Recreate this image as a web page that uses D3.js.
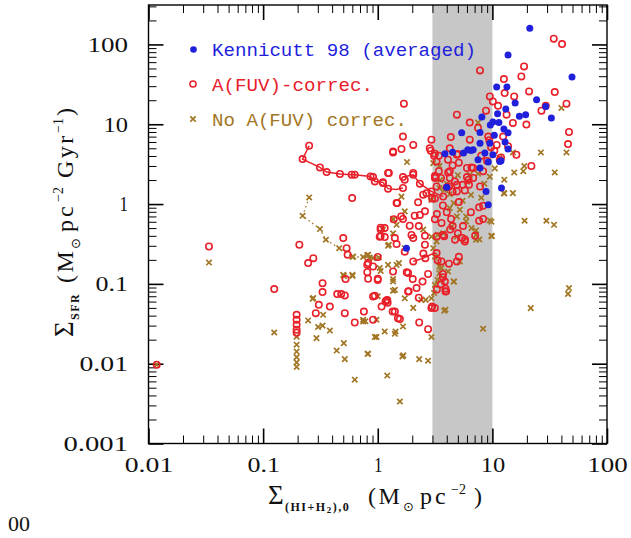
<!DOCTYPE html>
<html><head><meta charset="utf-8">
<script src="https://cdn.jsdelivr.net/npm/d3@7"></script>
<style>body{margin:0;background:#fff}</style>
</head><body>
<svg id="chart" width="631" height="538"></svg>
<script>
// ---------- data ----------
const xTickValues = [0.01, 0.1, 1, 10, 100];
const xTickLabels = ["0.01", "0.1", "1", "10", "100"];
const yTickValues = [0.001, 0.01, 0.1, 1, 10, 100];
const yTickLabels = ["0.001", "0.01", "0.1", "1", "10", "100"];
const shadeRange = [3, 10];
const legendLabels = ["Kennicutt 98 (averaged)", "A(FUV)-correc.", "No A(FUV) correc."];

// Kennicutt 98 (averaged) [gas surface density, SFR surface density]
const kennicutt = [
 [21.2,160],[13.7,74],[49.5,39],[10.9,29.3],[13.4,29.3],[24.3,20.3],[15.8,18.4],[19.5,13.2],
 [32.7,12.0],[29.2,16.7],[13.1,15.5],[11.1,13.5],[8.1,12.3],[10.1,10.7],[11.4,10.5],[12.6,8.7],
 [13.7,7.8],[7.8,7.9],[5.4,7.8],[6.1,4.8],[6.8,4.8],[7.8,5.8],[9.5,5.8],[5.6,4.36],[7.5,3.6],
 [8.6,4.36],[10.1,4.15],[9.2,3.36],[7.8,2.83],[11.6,3.42],[3.85,4.27],[12,1.59],[4.0,1.63],
 [8.8,1.44],[9.2,0.98],[1.78,0.28],[9.6,9.8],[10.4,7.3],[12.9,6.0],[13.7,4.9],[11.9,3.5],
 [6.5,4.7],[17.2,12.6],[4.5,4.45]
];

// A(FUV)-corrected
const fuvCorrected = [
 [34.3,118],[40.5,101],[7.8,47.2],[18.9,53],[17.9,39.7],[12.6,36.8],[20.9,25.8],[35,25.3],
 [12.8,24.6],[15.5,22.3],[44.3,18.1],[9.5,22.3],[29.2,17],[26.8,14.8],[11.2,17],[10.1,19.3],
 [8.8,14.8],[13.3,13.2],[4.9,13.2],[1.69,18.1],[6.35,10.5],[7.5,9.0],[15.1,10.4],[19.8,9.9],
 [46.6,8.0],[45.7,5.65],[4.34,6.9],[2.94,6.4],[2.84,5.0],[3.15,4.27],[4.25,5.0],[4.9,4.15],
 [6.35,6.4],[9.2,7.0],[10.9,5.5],[12.4,7.0],[13.7,5.3],[16.2,4.15],[11.6,3.6],[21.9,3.0],
 [2.04,5.5],[1.66,7.0],[1.36,4.43],[1.61,4.9],[1.23,2.45],[2.04,2.45],[1.72,2.02],[3.15,2.12],
 [4.11,2.49],[4.7,1.92],[6.0,2.83],[6.2,2.02],[6.8,2.83],[4.9,1.44],[7.8,1.66],[5.75,1.48],
 [2.66,1.37],[3.72,1.24],[3.41,4.03],[4.1,3.6],[3.26,3.42],[5.0,4.23],[0.91,2.18],[1.11,1.83],
 [1.66,2.18],[2.04,2.33],[1.66,1.59],[2.33,1.8],[3.21,2.18],[3.26,1.66],[4.0,1.63],[4.25,2.12],
 [6.0,2.18],[6.57,2.88],[2.94,1.44],[2.49,1.31],[1.46,1.03],[2.25,1.05],[1.66,0.65],[2.33,0.73],
 [2.58,0.81],[1.9,0.535],[1.97,0.41],[1.15,0.5],[1.04,0.39],[3.6,0.58],[3.72,0.41],[5.0,0.43],
 [0.252,5.38],[0.221,3.66],[0.313,2.88],[0.358,2.52],[0.468,2.38],[0.592,2.33],[0.63,2.33],
 [0.865,2.22],[0.944,1.92],[1.11,1.87],[1.23,1.56],
 [1.36,4.57],[1.25,2.45],[0.598,1.19],[1.48,1.03],[1.06,0.48],[1.15,0.386],[1.41,0.375],
 [1.46,0.315],[0.5,0.375],[0.535,0.28],[0.546,0.232],[0.207,0.309],[0.274,0.21],[0.247,0.182],
 [0.0337,0.294],[0.125,0.086],[0.824,0.182],[0.91,0.165],[1.0,0.217],[0.824,0.116],[1.0,0.116],
 [1.36,0.143],[0.33,0.102],[0.33,0.079],[0.443,0.0745],[0.48,0.0745],[0.516,0.0716],
 [0.306,0.0547],[0.382,0.052],[0.944,0.071],[1.21,0.063],[0.288,0.043],[0.63,0.0328],
 [0.757,0.045],[0.516,0.043],
 [0.196,0.041],[0.196,0.0355],[0.196,0.0307],[0.196,0.0266],[0.196,0.0244],
 [0.0118,0.0097],
 [2.04,0.375],[2.58,0.4],[2.58,0.309],[3.26,0.243],[3.6,0.191],[4.9,0.191],[5.75,0.34],
 [3.85,0.107],[3.9,0.08],[2.94,0.0497],[2.75,0.0271],[2.04,0.191],[1.84,0.137],[1.0,0.112],
 [1.84,0.08],[2.18,0.0886],[2.46,0.107],[0.91,0.0695],[1.19,0.062],[1.17,0.06],[1.22,0.058],
 [1.08,0.052],[1.41,0.045],[1.56,0.0362],[2.3,0.0328],[0.91,0.0355],
 [0.524,0.115],[0.81,0.174],[0.81,0.14],[1.06,0.506],[1.06,0.395],[1.35,0.045],[1.5,0.037],
 [1.38,0.647],[1.6,0.7],[1.72,0.253],[1.79,0.14],[1.86,0.081],[2.02,0.115],[2.28,0.067],
 [2.1,0.715],[2.28,0.53],[2.5,0.24],[2.6,0.21],[2.75,0.133],[2.98,0.052],[2.98,1.17],
 [3.15,0.647],[3.28,0.395],[3.33,0.198],[3.56,0.099],[3.7,0.133],[3.95,0.081],[3.8,0.395],
 [4.28,0.48],[4.18,0.179],[5.1,0.218],[4.72,0.358],[5.46,0.376],[5.55,0.53],[7.66,0.616],
 [8.3,0.95],[3.15,1.17],[3.28,0.75],[3.7,0.96],[4.0,0.79],[4.36,0.65],[4.5,1.43],[4.5,0.53],
 [5.1,1.06],[5.5,1.74],[5.77,0.36],[6.25,1.74],[6.5,0.79],[6.8,2.12],[7.07,0.4],[7.66,0.91],
 [8.3,0.65],[8.3,2.58],[9.0,3.47],[8.0,4.03],[9.75,5.15],[9.4,6.3],[10.4,4.67],[11.9,3.84],
 [3.7,0.121],[3.28,0.085],[3.9,0.087],[3.15,0.05],[4.9,1.74],[4.18,1.66],[3.56,2.12],
 [3.15,2.25],[3.41,2.58],[4.25,2.58],[5.1,3.3],[4.5,3.05],[3.1,4.03],[2.9,4.67]
];

// connected A(FUV)-corrected profiles
const fuvProfileA = [[0.252,5.38],[0.221,3.66],[0.313,2.88],[0.358,2.52],[0.468,2.38],[0.592,2.33],
 [0.63,2.33],[0.865,2.22],[0.944,1.92],[1.11,1.87],[1.23,1.56],[1.45,1.52],[1.66,1.59]];
const fuvProfileB = [[1.66,2.18],[2.04,2.33],[2.33,1.8],[2.94,1.44],[3.72,1.24]];
const fuvProfileC = [[2.04,0.191],[2.5,0.21],[2.94,0.235],[3.26,0.243]];

// No A(FUV) correction
const noFuv = [
 [0.0337,0.185],[0.0118,0.0097],[0.125,0.0246],
 [0.252,1.21],[0.221,0.713],[0.313,0.486],[0.353,0.357],[0.461,0.28],[0.603,0.217],
 [0.746,0.217],[0.85,0.214],[1.02,0.214],
 [0.196,0.0218],[0.196,0.0173],[0.196,0.0142],[0.196,0.0121],[0.196,0.0104],[0.196,0.0091],
 [0.506,0.126],[0.603,0.126],[1.36,0.654],[1.46,0.55],[1.23,0.3],[1.46,0.173],[1.23,0.173],
 [1.36,0.115],[1.0,0.07],[1.36,0.082],[0.27,0.065],[0.247,0.0348],[0.302,0.0288],[0.33,0.03],
 [0.382,0.026],[0.292,0.0209],[0.334,0.041],[0.438,0.0146],[0.516,0.0114],[0.506,0.0181],
 [0.63,0.0063],[0.5,0.13],[0.6,0.13],[0.746,0.0338],[0.815,0.0133],[1.21,0.0071],[1.15,0.0253],
 [0.975,0.0216],[0.274,0.0664],[1.25,0.309],[1.72,0.28],[1.53,0.182],[1.04,0.158],[0.91,0.21],
 [0.824,0.232],[0.746,0.0355],[0.78,0.034],[0.975,0.0355],[0.944,0.0216],[1.41,0.0237],
 [0.824,0.0133],[1.64,0.0123],[2.3,0.0114],[2.75,0.0109],[1.66,0.0293],[1.36,0.107],[1.41,0.084],
 [1.72,0.066],[2.04,0.05],[2.4,0.063],[2.62,0.063],[2.94,0.066],[3.1,0.077],[3.15,0.097],
 [3.33,0.112],[3.45,0.136],[3.45,0.165],[3.15,0.22],[3.05,0.28],[3.26,0.34],[3.33,0.41],
 [4.1,0.143],[4.63,0.107],[3.9,0.0474],[2.94,0.0216],[8.3,0.0274],[19.1,0.618],[29.6,0.618],
 [34.5,0.55],[46.6,0.0886],[45.7,0.075],[21.6,0.0497],[9.8,0.4],[7.2,0.357],[9.5,0.623],
 [7.2,0.467],[5.9,0.605],[5.2,0.191],[4.6,0.107],[3.6,0.158],[3.8,0.046],[1.56,0.00336],
 [40,16],[44.3,4.43],[26.5,4.43],[35,2.49],[15.5,2.49],[19,3.0],[15.1,4.43],[15.1,1.37],
 [12.6,1.37],[1.8,3.36],[3.05,3.26],[7.5,10.5],[3.45,3.0],[6.35,2.33],[1.61,1.24],[4.25,1.33],
 [4.6,1.03],[2.94,1.13],[4.25,0.89],[5.2,0.85],[4.9,0.7],[5.9,0.7],[6.57,0.5],[4.4,0.52],
 [3.72,0.43],[2.94,0.39],[4.9,0.39],[7.2,0.41],[1.36,0.64],[1.36,0.43],[1.11,0.48],[2.49,0.48],
 [1.72,0.81],[12.7,2.02],[12.7,1.36],[9.9,0.395],[9.8,0.6],[7.7,0.36],[18.6,2.58],[3.45,1.59],
 [0.81,0.229],[1.06,0.145],[0.61,0.22],[1.43,0.0253],[1.67,0.0127],
 [3.5,2.0],[4.0,1.8],[5.0,2.3],[6.0,1.9],[7.5,2.4],[8.5,1.8],[9.5,2.2],[10.5,2.8],[11.5,3.8],
 [8.0,1.2],[6.5,1.3],[5.5,1.1],[3.8,1.5]
];

// dotted No A(FUV) profiles
const noFuvProfileA = [[0.252,1.21],[0.221,0.713],[0.313,0.486],[0.353,0.357],[0.461,0.28],
 [0.603,0.217],[0.746,0.217],[0.85,0.214],[1.02,0.214]];
const noFuvProfileB = [[2.4,0.063],[2.62,0.063],[2.94,0.066],[3.1,0.077],[3.15,0.097],[3.33,0.112],
 [3.45,0.136],[3.45,0.165],[3.15,0.22],[3.05,0.28],[3.26,0.34],[3.33,0.41]];

// ---------- style ----------
const BLUE = "#1f1fdc", RED = "#e8202a", BROWN = "#a27624", SHADE = "#c7c7c7";
const plot = {left: 148.5, right: 607, top: 5, bottom: 443.5};
const serif = "Liberation Serif, serif";

const svg = d3.select("#chart");
svg.append("rect").attr("width", 631).attr("height", 538).attr("fill", "#fff");

const x = d3.scaleLog().domain([0.01, 100]).range([plot.left, plot.right]);
const y = d3.scaleLog().domain([0.001, 312]).range([plot.bottom, plot.top]);

// shaded band
svg.append("rect")
  .attr("x", x(shadeRange[0])).attr("width", x(shadeRange[1]) - x(shadeRange[0]))
  .attr("y", plot.top).attr("height", plot.bottom - plot.top)
  .attr("fill", SHADE);

// minor ticks
function minorOf(majors) {
  const out = [];
  majors.slice(0, -1).forEach(d => { for (let m = 2; m <= 9; m++) out.push(d * m); });
  return out;
}
const yMajors = [0.001, 0.01, 0.1, 1, 10, 100, 1000];
const xMinor = minorOf(xTickValues);
const yMinor = minorOf(yMajors).filter(v => v <= 312);

// width of a tick label (wide, SM-like digits)
const labelWidth = s => Array.from(s).reduce((w, c) => w + (c === "0" ? 16 : c === "1" ? 8.5 : 8), 0);

function styleAxis(g) {
  g.select(".domain").remove();
  g.selectAll(".tick line").attr("stroke", "#000");
}
function styleLabels(sel, labels, values) {
  sel.attr("font-family", serif).attr("font-size", 20).attr("fill", "#111")
    .attr("textLength", d => labelWidth(labels[values.indexOf(d)]))
    .attr("lengthAdjust", "spacingAndGlyphs");
}
const axes = svg.append("g");
// bottom
axes.append("g").attr("transform", `translate(0,${plot.bottom})`)
  .call(d3.axisBottom(x).tickValues(xMinor).tickSize(-8).tickFormat("")).call(styleAxis);
const bottomMajor = axes.append("g").attr("transform", `translate(0,${plot.bottom})`)
  .call(d3.axisBottom(x).tickValues(xTickValues).tickSize(-15).tickFormat((d, i) => xTickLabels[i]))
  .call(styleAxis);
bottomMajor.selectAll(".tick line").attr("stroke-width", 1.6);
bottomMajor.selectAll("text").attr("y", 28.5).attr("dy", 0)
  .call(styleLabels, xTickLabels, xTickValues);
// top
axes.append("g").attr("transform", `translate(0,${plot.top})`)
  .call(d3.axisTop(x).tickValues(xMinor).tickSize(-8).tickFormat("")).call(styleAxis);
axes.append("g").attr("transform", `translate(0,${plot.top})`)
  .call(d3.axisTop(x).tickValues(xTickValues).tickSize(-15).tickFormat("")).call(styleAxis)
  .selectAll(".tick line").attr("stroke-width", 1.6);
// left
axes.append("g").attr("transform", `translate(${plot.left},0)`)
  .call(d3.axisLeft(y).tickValues(yMinor).tickSize(-8).tickFormat("")).call(styleAxis);
const leftMajor = axes.append("g").attr("transform", `translate(${plot.left},0)`)
  .call(d3.axisLeft(y).tickValues(yTickValues).tickSize(-15).tickPadding(20.5)
    .tickFormat((d, i) => yTickLabels[i]))
  .call(styleAxis);
leftMajor.selectAll(".tick line").attr("stroke-width", 1.6);
leftMajor.selectAll("text").attr("dy", "0.34em").call(styleLabels, yTickLabels, yTickValues);
// right
axes.append("g").attr("transform", `translate(${plot.right},0)`)
  .call(d3.axisRight(y).tickValues(yMinor).tickSize(-8).tickFormat("")).call(styleAxis);
axes.append("g").attr("transform", `translate(${plot.right},0)`)
  .call(d3.axisRight(y).tickValues(yTickValues).tickSize(-15).tickFormat("")).call(styleAxis)
  .selectAll(".tick line").attr("stroke-width", 1.6);

// ---------- marks ----------
const line = d3.line().x(d => x(d[0])).y(d => y(d[1]));
const crossPath = "M-2.7,-2.7L2.7,2.7M-2.7,2.7L2.7,-2.7";

const marks = svg.append("g");
[noFuvProfileA, noFuvProfileB].forEach(p => marks.append("path").attr("d", line(p))
  .attr("fill", "none").attr("stroke", BROWN).attr("stroke-width", 1.3).attr("stroke-dasharray", "1.5,3"));
marks.selectAll("path.nofuv").data(noFuv).join("path").attr("class", "nofuv")
  .attr("transform", d => `translate(${x(d[0])},${y(d[1])})`)
  .attr("d", crossPath).attr("stroke", BROWN).attr("stroke-width", 1.7).attr("fill", "none");

[fuvProfileA, fuvProfileB, fuvProfileC].forEach(p => marks.append("path").attr("d", line(p))
  .attr("fill", "none").attr("stroke", RED).attr("stroke-width", 1.5));
marks.selectAll("circle.fuv").data(fuvCorrected).join("circle").attr("class", "fuv")
  .attr("cx", d => x(d[0])).attr("cy", d => y(d[1])).attr("r", 3.2)
  .attr("fill", "none").attr("stroke", RED).attr("stroke-width", 1.6);

marks.selectAll("circle.ken").data(kennicutt).join("circle").attr("class", "ken")
  .attr("cx", d => x(d[0])).attr("cy", d => y(d[1])).attr("r", 3.5)
  .attr("fill", BLUE);

// frame
svg.append("rect").attr("x", plot.left).attr("y", plot.top)
  .attr("width", plot.right - plot.left).attr("height", plot.bottom - plot.top)
  .attr("fill", "none").attr("stroke", "#000").attr("stroke-width", 1.4);

// ---------- legend ----------
const leg = svg.append("g").attr("font-family", "Liberation Mono, monospace").attr("font-size", 19);
leg.append("circle").attr("cx", 193.5).attr("cy", 49.5).attr("r", 3.3).attr("fill", BLUE);
leg.append("text").attr("x", 212).attr("y", 55.5).attr("fill", BLUE)
  .attr("textLength", 264).attr("lengthAdjust", "spacingAndGlyphs").text(legendLabels[0]);
leg.append("circle").attr("cx", 193).attr("cy", 84).attr("r", 3.1).attr("fill", "none")
  .attr("stroke", RED).attr("stroke-width", 1.5);
leg.append("text").attr("x", 212).attr("y", 90.5).attr("fill", RED)
  .attr("textLength", 161).attr("lengthAdjust", "spacingAndGlyphs").text(legendLabels[1]);
leg.append("path").attr("transform", "translate(193,119)").attr("d", crossPath)
  .attr("stroke", BROWN).attr("stroke-width", 1.7);
leg.append("text").attr("x", 212).attr("y", 125.5).attr("fill", BROWN)
  .attr("textLength", 195).attr("lengthAdjust", "spacingAndGlyphs").text(legendLabels[2]);

// ---------- axis titles ----------
// x title: pieces placed along the baseline
const xt = svg.append("text").attr("y", 504).attr("font-family", serif)
  .attr("font-size", 24).attr("fill", "#111");
xt.append("tspan").attr("x", 268).attr("font-size", 27).text("Σ");
xt.append("tspan").attr("x", 285).attr("dy", 7).attr("font-size", 12).attr("font-weight", "bold")
  .attr("letter-spacing", 1.5).text("(HI+H");
xt.append("tspan").attr("dy", 2).attr("font-size", 9).attr("font-weight", "bold")
  .attr("letter-spacing", 1.5).text("2");
xt.append("tspan").attr("dy", -2).attr("font-size", 12).attr("font-weight", "bold")
  .attr("letter-spacing", 1.5).text("),0");
xt.append("tspan").attr("x", 368).attr("dy", -7).attr("letter-spacing", 2.5).text("(M");
xt.append("tspan").attr("x", 403).attr("dy", 7).attr("font-size", 13).attr("font-family", "DejaVu Sans").text("⊙");
xt.append("tspan").attr("x", 420).attr("dy", -7).attr("letter-spacing", 3).text("pc");
xt.append("tspan").attr("x", 451).attr("dy", -10).attr("font-size", 14).text("−2");
xt.append("tspan").attr("x", 474).attr("dy", 10).text(")");

// y title: rotated; x positions are minus the screen y where each piece starts
const yt = svg.append("text").attr("transform", "translate(73,0) rotate(-90)")
  .attr("y", 0).attr("font-family", serif).attr("font-size", 24).attr("fill", "#111");
yt.append("tspan").attr("x", -337).attr("font-size", 27).text("Σ");
yt.append("tspan").attr("x", -320).attr("dy", 6).attr("font-size", 12).attr("font-weight", "bold")
  .attr("letter-spacing", 1.5).text("SFR");
yt.append("tspan").attr("x", -283).attr("dy", -6).attr("letter-spacing", 2.5).text("(M");
yt.append("tspan").attr("x", -249).attr("dy", 7).attr("font-size", 13).attr("font-family", "DejaVu Sans").text("⊙");
yt.append("tspan").attr("x", -232).attr("dy", -7).attr("letter-spacing", 3).text("pc");
yt.append("tspan").attr("x", -202).attr("dy", -10).attr("font-size", 14).text("−2");
yt.append("tspan").attr("x", -178).attr("dy", 10).attr("letter-spacing", 2.5).text("Gyr");
yt.append("tspan").attr("x", -133).attr("dy", -10).attr("font-size", 14).text("−1");
yt.append("tspan").attr("x", -116).attr("dy", 10).text(")");

svg.append("text").attr("x", 8).attr("y", 531).attr("font-family", serif)
  .attr("font-size", 22).attr("fill", "#111").text("00");
</script>
</body></html>
